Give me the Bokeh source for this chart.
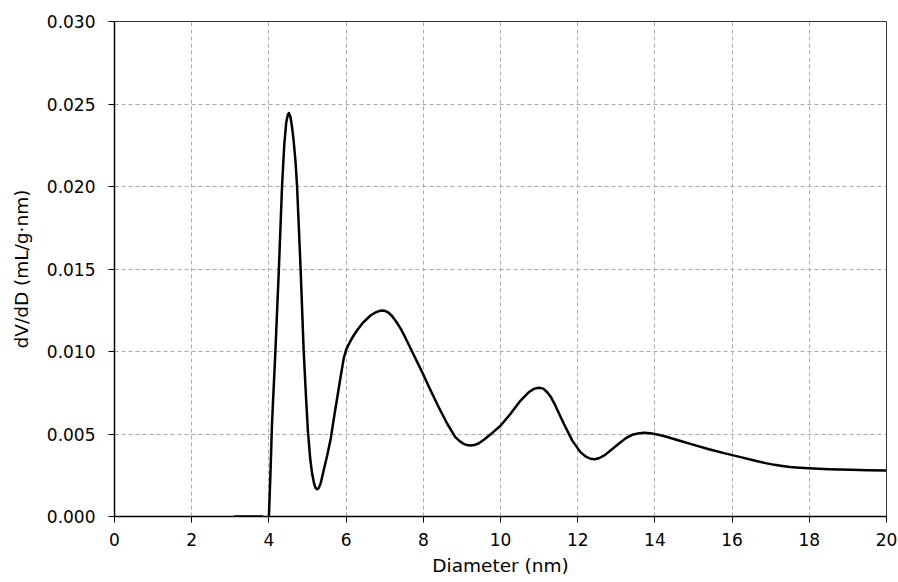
from bokeh.plotting import figure
from bokeh.models import Range1d, FixedTicker, NumeralTickFormatter
from bokeh.embed import file_html
from bokeh.resources import INLINE

# Pore size distribution
flat_x = [3.10, 3.85]
flat_y = [0.0, 0.0]

diameter = [4.00, 4.04, 4.08, 4.17, 4.26, 4.34, 4.40, 4.45, 4.49, 4.52, 4.56, 4.60, 4.64,
            4.69, 4.73, 4.82, 4.90, 4.96, 5.01, 5.07, 5.12, 5.17, 5.21, 5.25, 5.29, 5.34,
            5.42, 5.51, 5.60, 5.68, 5.77, 5.86, 5.94, 6.00, 6.06, 6.15, 6.29, 6.42, 6.55,
            6.63, 6.75, 6.85, 6.93, 7.02, 7.10, 7.19, 7.30, 7.41, 7.50, 7.58, 7.75, 7.97,
            8.19, 8.40, 8.62, 8.83, 8.95, 9.05, 9.13, 9.22, 9.32, 9.44, 9.57, 9.78, 10.00,
            10.25, 10.52, 10.73, 10.88, 11.00, 11.11, 11.21, 11.31, 11.42, 11.64, 11.86,
            12.07, 12.20, 12.33, 12.44, 12.55, 12.70, 12.85, 13.11, 13.25, 13.41, 13.56,
            13.71, 13.88, 14.06, 14.30, 14.60, 14.92, 15.40, 15.79, 16.22, 16.60, 16.90,
            17.10, 17.30, 17.50, 17.75, 17.99, 18.50, 19.07, 19.50, 20.00]
dvdd = [0.0000, 0.0026, 0.0056, 0.0101, 0.0151, 0.0200, 0.0226, 0.0239, 0.02435, 0.02445,
        0.0242, 0.0236, 0.0228, 0.0215, 0.0200, 0.0151, 0.0101, 0.0073, 0.0052, 0.0035,
        0.0026, 0.0020, 0.00172, 0.00165, 0.00172, 0.0020, 0.0028, 0.0037, 0.0047,
        0.0059, 0.0072, 0.0085, 0.0096, 0.0101, 0.0104, 0.0108, 0.0113, 0.0117, 0.0120,
        0.01218, 0.01235, 0.01245, 0.01248, 0.01245, 0.01235, 0.01215, 0.0118, 0.01140,
        0.0110, 0.01062, 0.00980, 0.00875, 0.00764, 0.00662, 0.00562, 0.00481, 0.00455,
        0.0044, 0.00433, 0.0043, 0.00433, 0.00444, 0.00465, 0.00505, 0.0055, 0.0062,
        0.00703, 0.00753, 0.00775, 0.0078, 0.00775, 0.00753, 0.00722, 0.00673, 0.00562,
        0.0046, 0.0039, 0.00365, 0.0035, 0.00347, 0.00353, 0.00372, 0.0040, 0.0045,
        0.00475, 0.00495, 0.00503, 0.00507, 0.00505, 0.00497, 0.00483, 0.00462, 0.0044,
        0.00408, 0.00384, 0.0036, 0.00338, 0.00322, 0.00313, 0.00306, 0.00300, 0.00296,
        0.00293, 0.00287, 0.00283, 0.00281, 0.00279]

x_ticks = [0, 2, 4, 6, 8, 10, 12, 14, 16, 18, 20]
y_ticks = [0.000, 0.005, 0.010, 0.015, 0.020, 0.025, 0.030]

FONT = "DejaVu Sans"

p = figure(width=898, height=582, output_backend="svg", toolbar_location=None,
           x_range=Range1d(0, 20), y_range=Range1d(0, 0.030),
           min_border_left=114, min_border_right=12, min_border_top=21, min_border_bottom=66)

p.line(flat_x, flat_y, line_color="black", line_width=2.5)
p.line(diameter, dvdd, line_color="black", line_width=2.5, line_join="round")

p.xaxis.ticker = FixedTicker(ticks=x_ticks)
p.yaxis.ticker = FixedTicker(ticks=y_ticks)
p.xaxis.formatter = NumeralTickFormatter(format="0")
p.yaxis.formatter = NumeralTickFormatter(format="0.000")

p.xaxis.axis_label = "Diameter (nm)"
p.yaxis.axis_label = "dV/dD (mL/g·nm)"

for ax in (p.xaxis, p.yaxis):
    ax.axis_line_color = "black"
    ax.axis_line_width = 1.5
    ax.major_tick_line_color = "black"
    ax.major_tick_out = 6
    ax.major_tick_in = 0
    ax.minor_tick_line_color = None
    ax.major_label_text_font = FONT
    ax.major_label_text_font_size = "17px"
    ax.major_label_text_color = "black"
    ax.axis_label_text_font = FONT
    ax.axis_label_text_font_size = "18.5px"
    ax.axis_label_text_font_style = "normal"
    ax.axis_label_text_color = "black"

p.xaxis.major_label_standoff = 10
p.yaxis.major_label_standoff = 13
p.xaxis.axis_label_standoff = 6
p.yaxis.axis_label_standoff = 12

p.grid.grid_line_color = "#aaaaaa"
p.grid.grid_line_dash = "4 3"
p.grid.grid_line_width = 1

p.outline_line_color = "#333333"
p.outline_line_width = 1
p.background_fill_color = "white"
p.border_fill_color = "white"

open("out.html", "w").write(file_html(p, INLINE))
